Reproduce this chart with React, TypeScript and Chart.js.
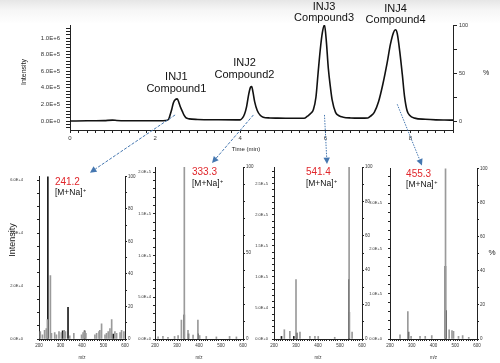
import React, { useEffect, useRef } from "react";
import { Chart, registerables } from "chart.js";

Chart.register(...registerables);

const FONT = "'Liberation Sans', Arial, Helvetica, sans-serif";

// ---------------- Chromatogram data (time in min, relative intensity %) ----------------
const chromTime = [
  0, 0.4, 0.8, 1.0, 1.1, 1.3, 1.7, 2.1, 2.25, 2.32, 2.35, 2.39, 2.43, 2.48, 2.52, 2.56, 2.6, 2.64, 2.68, 2.72,
  2.8, 3.0, 3.5, 3.9, 4.0, 4.05, 4.1, 4.15, 4.2, 4.24, 4.27, 4.3, 4.34, 4.4, 4.47, 4.54, 4.7, 4.87, 5.2, 5.5,
  5.58, 5.66, 5.72, 5.78, 5.83, 5.88, 5.93, 5.98, 6.02, 6.07, 6.12, 6.16, 6.24, 6.32, 6.42, 6.6, 6.82, 7.0,
  7.06, 7.15, 7.25, 7.35, 7.45, 7.53, 7.6, 7.65, 7.69, 7.75, 7.81, 7.86, 7.92, 7.98, 8.1, 8.35, 8.6, 8.8, 9.0,
];
const chromPct = [
  0, 0.2, 0.4, 0.9, 0.6, 0.3, 0.2, 0.3, 0.5, 2, 6, 12, 19, 22.5, 23, 19, 14, 10, 6, 3.5,
  2.2, 1.6, 1.3, 1.2, 1.2, 3, 7, 15, 28, 35, 36, 30, 20, 11, 6, 4, 3.2, 3, 2.8, 2.8,
  5, 8, 12, 25, 50, 74, 92, 100, 85, 55, 35, 22, 9, 5.5, 4, 3.2, 3, 3.2,
  5, 9, 20, 38, 60, 80, 92, 95, 91, 72, 48, 26, 11, 6, 3, 1.8, 1.2, 1.0, 0.9,
];
const peakNames = ["INJ1", "INJ2", "INJ3", "INJ4"];
const compoundNames = ["Compound1", "Compound2", "Compound3", "Compound4"];
const peakLabelTime = [2.5, 4.1, 5.97, 7.65];
const peakLabelPct = [45.8, 60.4, 119.3, 117.2];
const chromXTickValues = [0, 2, 4, 6, 8];
const chromXTickLabels = ["0", "2", "4", "6", "8"];
const chromYTickValues = [0, 200000, 400000, 600000, 800000, 1000000];
const chromYTickLabels = ["0.0E+0", "2.0E+5", "4.0E+5", "6.0E+5", "8.0E+5", "1.0E+6"];
const chromPctTickValues = [0, 50, 100];
const chromPctTickLabels = ["0", "50", "100"];
const chromFullScale = 1157000;

// ---------------- Mass spectra (m/z, relative intensity %) ----------------
const ionMasses = ["241.2", "333.3", "541.4", "455.3"];
const ionLabel = "[M+Na]";
const specXTickValues = [200, 300, 400, 500, 600];
const specXTickLabels = ["200", "300", "400", "500", "600"];

const spec1GrayMz = [206, 216, 226, 234, 239, 253, 258, 273, 281, 293, 304, 317, 323, 343, 362, 398, 405, 413, 418, 460, 468, 479, 483, 491, 507, 514, 522, 530, 538, 553, 561, 577, 584, 595];
const spec1GrayPct = [4.5, 2.5, 5.4, 6.4, 12, 39, 3.5, 4, 2.5, 4.5, 4, 5.4, 4.5, 2, 3.5, 2.5, 4, 4.5, 3.5, 2.5, 3.5, 4.5, 5.4, 9.3, 2.5, 3.5, 4.5, 6.4, 12, 4.5, 3.5, 4, 5.4, 4.5];
const spec1BlackMz = [241.2, 310, 335, 412, 545];
const spec1BlackPct = [100, 5, 19.5, 5, 3];
const spec1LeftTickValues = [0, 20000, 40000, 60000];
const spec1LeftTickLabels = ["0.0E+0", "2.0E+4", "4.0E+4", "6.0E+4"];
const spec1FullScale = 61400;
const spec1RightTicks = [0, 20, 40, 60, 80, 100];

const spec2GrayMz = [214, 236, 259, 289, 305, 320, 333.3, 350, 373, 395, 403, 433, 479, 539, 570];
const spec2GrayPct = [1.2, 1.5, 1, 1.5, 2, 11, 100, 5, 2.3, 11, 2, 1.5, 1.2, 1.5, 1.2];
const spec2BlackMz = [333, 352, 396];
const spec2BlackPct = [14, 3, 3];
const spec2LeftTickValues = [0, 50000, 100000, 150000, 200000];
const spec2LeftTickLabels = ["0.0E+0", "5.0E+4", "1.0E+5", "1.5E+5", "2.0E+5"];
const spec2FullScale = 206000;
const spec2RightTicks = [0, 50, 100];

const spec3GrayMz = [247, 272, 300, 318, 363, 386, 401, 476, 541.4, 555];
const spec3GrayPct = [5.4, 4.5, 34.5, 4, 1.5, 1.5, 1.5, 1, 100, 4];
const spec3BlackMz = [234, 290, 303, 540.6, 542.2];
const spec3BlackPct = [1.5, 1.5, 3.5, 34.5, 15.5];
const spec3LeftTickValues = [0, 50000, 100000, 150000, 200000, 250000];
const spec3LeftTickLabels = ["0.0E+0", "5.0E+4", "1.0E+5", "1.5E+5", "2.0E+5", "2.5E+5"];
const spec3FullScale = 277000;
const spec3RightTicks = [0, 20, 40, 60, 80, 100];

const spec4GrayMz = [246, 282, 297, 338, 362, 392, 455.3, 472, 485, 492, 515, 534, 562];
const spec4GrayPct = [2.5, 16, 1.5, 1.5, 1.5, 2, 100, 5.4, 5, 4.5, 1.5, 2, 1];
const spec4BlackMz = [285, 454.6, 456.6];
const spec4BlackPct = [4, 42.6, 16.7];
const spec4LeftTickValues = [0, 100000, 200000, 300000];
const spec4LeftTickLabels = ["0.0E+0", "1.0E+5", "2.0E+5", "3.0E+5"];
const spec4FullScale = 377000;
const spec4RightTicks = [0, 20, 40, 60, 80, 100];

// Ion label anchor (m/z position of label's left edge)
const ionLabelMz = [274, 368, 345, 274];

// Arrows: chromatogram (time, %) -> spectrum (m/z, %)
const arrowFromTime = [2.47, 4.31, 5.98, 7.69];
const arrowFromPct = [6.3, 6.3, 6.3, 17.4];
const arrowToMz = [437, 459, 441, 347];
const arrowToPct = [102.3, 102.3, 101.7, 101.7];

// ---------------- layout (styling only) ----------------
const TOP = { left: 0, top: 0, width: 500, height: 155, axisLeft: 70, axisRight: 47, padTop: 25, xAxisH: 25 };
const SPEC_TOP = 160;
const SPEC_H = 203;
const PANELS = [
  { left: 0, width: 140, axisLeft: 39, axisRight: 15, lpad: 14, minor: 5000 },
  { left: 125, width: 135, axisLeft: 30, axisRight: 17, lpad: 2, minor: 10000 },
  { left: 244, width: 135, axisLeft: 30, axisRight: 17, lpad: 4, minor: 10000 },
  { left: 360, width: 140, axisLeft: 30, axisRight: 23, lpad: 6, minor: 20000 },
];
const SPEC_DATA = [
  { gMz: spec1GrayMz, gPct: spec1GrayPct, bMz: spec1BlackMz, bPct: spec1BlackPct, lv: spec1LeftTickValues, ll: spec1LeftTickLabels, fs: spec1FullScale, rt: spec1RightTicks },
  { gMz: spec2GrayMz, gPct: spec2GrayPct, bMz: spec2BlackMz, bPct: spec2BlackPct, lv: spec2LeftTickValues, ll: spec2LeftTickLabels, fs: spec2FullScale, rt: spec2RightTicks },
  { gMz: spec3GrayMz, gPct: spec3GrayPct, bMz: spec3BlackMz, bPct: spec3BlackPct, lv: spec3LeftTickValues, ll: spec3LeftTickLabels, fs: spec3FullScale, rt: spec3RightTicks },
  { gMz: spec4GrayMz, gPct: spec4GrayPct, bMz: spec4BlackMz, bPct: spec4BlackPct, lv: spec4LeftTickValues, ll: spec4LeftTickLabels, fs: spec4FullScale, rt: spec4RightTicks },
];
const AXIS_COLOR = "#222";
const TICK_COLOR = "#333";
const ARROW_COLOR = "#4577b0";
const ARROW_DASH = [[3, 1.5], [3, 1.5], [1.5, 1.2], [1.5, 1.2]];

function labelFor(values: number[], labels: string[], v: number, tol: number) {
  const i = values.findIndex((tv) => Math.abs(tv - v) < tol);
  return i >= 0 ? labels[i] : "";
}

function makeTop(canvas: HTMLCanvasElement) {
  const labelsPlugin = {
    id: "peakLabels",
    afterDatasetsDraw(chart: any) {
      const ctx = chart.ctx;
      const xs = chart.scales.x;
      const ys = chart.scales.yR;
      ctx.save();
      ctx.fillStyle = "#111";
      ctx.textAlign = "center";
      ctx.textBaseline = "middle";
      ctx.font = `11px ${FONT}`;
      peakNames.forEach((n, i) => {
        const px = xs.getPixelForValue(peakLabelTime[i]);
        const py = ys.getPixelForValue(peakLabelPct[i]);
        ctx.fillText(n, px, py);
        ctx.fillText(compoundNames[i], px, py + 11.5);
      });
      ctx.restore();
    },
  };
  return new Chart(canvas, {
    type: "line",
    data: {
      datasets: [
        {
          data: chromTime.map((t, i) => ({ x: t, y: chromPct[i] })),
          yAxisID: "yR",
          borderColor: "#111",
          borderWidth: 1.6,
          pointRadius: 0,
          cubicInterpolationMode: "monotone",
          fill: false,
        },
      ],
    },
    options: {
      animation: false,
      responsive: false,
      events: [],
      layout: { padding: { top: TOP.padTop, left: 0, right: 0, bottom: 0 } },
      plugins: { legend: { display: false }, tooltip: { enabled: false } },
      scales: {
        x: {
          type: "linear",
          min: 0,
          max: 9,
          afterFit: (s: any) => { s.height = TOP.xAxisH; },
          afterBuildTicks: (s: any) => {
            const t = [];
            for (let i = 0; i <= 45; i++) t.push({ value: i / 5 });
            s.ticks = t;
          },
          ticks: {
            autoSkip: false,
            maxRotation: 0,
            padding: 2,
            color: TICK_COLOR,
            font: { family: FONT, size: 6 },
            callback: (v: any) => labelFor(chromXTickValues, chromXTickLabels, Number(v), 1e-6),
          },
          grid: { drawOnChartArea: false, drawTicks: true, tickLength: 3, color: AXIS_COLOR },
          border: { color: AXIS_COLOR, width: 1 },
        },
        y: {
          position: "left",
          min: -0.09375 * chromFullScale,
          max: chromFullScale,
          afterFit: (s: any) => { s.width = TOP.axisLeft; },
          afterBuildTicks: (s: any) => {
            const t = [];
            for (let i = -2; i <= 28; i++) t.push({ value: i * 40000 });
            s.ticks = t;
          },
          ticks: {
            autoSkip: false,
            padding: 6,
            color: TICK_COLOR,
            font: { family: FONT, size: 6 },
            callback: (v: any) => labelFor(chromYTickValues, chromYTickLabels, Number(v), 1),
          },
          grid: { drawOnChartArea: false, drawTicks: true, tickLength: 4, color: AXIS_COLOR },
          border: { color: AXIS_COLOR, width: 1 },
        },
        yR: {
          position: "right",
          min: -9.375,
          max: 100,
          afterFit: (s: any) => { s.width = TOP.axisRight; },
          afterBuildTicks: (s: any) => {
            s.ticks = [0, 25, 50, 75, 100].map((v) => ({ value: v }));
          },
          ticks: {
            autoSkip: false,
            padding: 2,
            color: TICK_COLOR,
            font: { family: FONT, size: 5.5 },
            callback: (v: any) => labelFor(chromPctTickValues, chromPctTickLabels, Number(v), 1e-6),
          },
          grid: { drawOnChartArea: false, drawTicks: true, tickLength: 4, color: AXIS_COLOR },
          border: { color: AXIS_COLOR, width: 1 },
        },
      },
    },
    plugins: [labelsPlugin],
  } as any);
}

function makeSpectrum(canvas: HTMLCanvasElement, idx: number) {
  const d = SPEC_DATA[idx];
  const p = PANELS[idx];
  const labelPlugin = {
    id: "ionLabels",
    afterDraw(chart: any) {
      const ctx = chart.ctx;
      const xs = chart.scales.x;
      const area = chart.chartArea;
      ctx.save();
      ctx.textBaseline = "middle";
      ctx.textAlign = "left";
      const x = xs.getPixelForValue(ionLabelMz[idx]);
      ctx.fillStyle = "#e0262b";
      ctx.font = `10px ${FONT}`;
      ctx.fillText(ionMasses[idx], x, area.top + 5.5);
      ctx.fillStyle = "#111";
      ctx.font = `8.5px ${FONT}`;
      ctx.fillText(ionLabel, x, area.top + 16.5);
      const w = ctx.measureText(ionLabel).width;
      ctx.font = `5.5px ${FONT}`;
      ctx.fillText("+", x + w + 0.5, area.top + 14);
      ctx.fillStyle = TICK_COLOR;
      ctx.textAlign = "center";
      ctx.font = `4.5px ${FONT}`;
      ctx.fillText("m/z", (area.left + area.right) / 2, area.bottom + 18.5);
      ctx.restore();
    },
  };
  return new Chart(canvas, {
    type: "bar",
    data: {
      datasets: [
        {
          data: d.gMz.map((m, i) => ({ x: m, y: d.gPct[i] })),
          backgroundColor: "#9a9a9a",
          borderWidth: 0,
          barThickness: 1,
          grouped: false,
          yAxisID: "yR",
        },
        {
          data: d.bMz.map((m, i) => ({ x: m, y: d.bPct[i] })),
          backgroundColor: "#1a1a1a",
          borderWidth: 0,
          barThickness: 1,
          grouped: false,
          yAxisID: "yR",
        },
      ],
    },
    options: {
      animation: false,
      responsive: false,
      events: [],
      layout: { padding: { top: 7, left: 0, right: 0, bottom: 0 } },
      plugins: { legend: { display: false }, tooltip: { enabled: false } },
      scales: {
        x: {
          type: "linear",
          min: 200,
          max: 600,
          offset: false,
          afterFit: (s: any) => { s.height = SPEC_H - 179; },
          afterBuildTicks: (s: any) => {
            const t = [];
            for (let i = 20; i <= 60; i++) t.push({ value: i * 10 });
            s.ticks = t;
          },
          ticks: {
            autoSkip: false,
            maxRotation: 0,
            padding: 2,
            color: TICK_COLOR,
            font: { family: FONT, size: 4.5 },
            callback: (v: any) => labelFor(specXTickValues, specXTickLabels, Number(v), 1e-6),
          },
          grid: { offset: false, drawOnChartArea: false, drawTicks: true, tickLength: 2, color: AXIS_COLOR },
          border: { color: AXIS_COLOR, width: 1 },
        },
        y: {
          position: "left",
          min: 0,
          max: d.fs,
          afterFit: (s: any) => { s.width = p.axisLeft; },
          afterBuildTicks: (s: any) => {
            const t = [];
            for (let v = 0; v <= d.fs; v += p.minor) t.push({ value: v });
            s.ticks = t;
          },
          ticks: {
            autoSkip: false,
            padding: p.lpad,
            color: TICK_COLOR,
            font: { family: FONT, size: 4 },
            callback: (v: any) => labelFor(d.lv, d.ll, Number(v), 1),
          },
          grid: { drawOnChartArea: false, drawTicks: true, tickLength: 2, color: AXIS_COLOR },
          border: { color: AXIS_COLOR, width: 1 },
        },
        yR: {
          position: "right",
          min: 0,
          max: 100,
          afterFit: (s: any) => { s.width = p.axisRight; },
          afterBuildTicks: (s: any) => {
            const t = [];
            for (let v = 0; v <= 100; v += 10) t.push({ value: v });
            s.ticks = t;
          },
          ticks: {
            autoSkip: false,
            padding: 1,
            color: TICK_COLOR,
            font: { family: FONT, size: 4.5 },
            callback: (v: any) => (d.rt.indexOf(Number(v)) >= 0 ? String(v) : ""),
          },
          grid: { drawOnChartArea: false, drawTicks: true, tickLength: 2, color: AXIS_COLOR },
          border: { color: AXIS_COLOR, width: 1 },
        },
      },
    },
    plugins: [labelPlugin],
  } as any);
}

function drawArrow(ctx: CanvasRenderingContext2D, x1: number, y1: number, x2: number, y2: number, dash: number[]) {
  const ang = Math.atan2(y2 - y1, x2 - x1);
  const head = 6.5;
  const half = 3.2;
  const bx = x2 - head * Math.cos(ang);
  const by = y2 - head * Math.sin(ang);
  ctx.save();
  ctx.strokeStyle = ARROW_COLOR;
  ctx.fillStyle = ARROW_COLOR;
  ctx.lineWidth = 1;
  ctx.setLineDash(dash);
  ctx.beginPath();
  ctx.moveTo(x1, y1);
  ctx.lineTo(bx, by);
  ctx.stroke();
  ctx.setLineDash([]);
  ctx.beginPath();
  ctx.moveTo(x2, y2);
  ctx.lineTo(bx + half * Math.sin(ang), by - half * Math.cos(ang));
  ctx.lineTo(bx - half * Math.sin(ang), by + half * Math.cos(ang));
  ctx.closePath();
  ctx.fill();
  ctx.restore();
}

function drawOverlay(canvas: HTMLCanvasElement, top: any, specs: any[]) {
  const ctx = canvas.getContext("2d");
  if (!ctx) return;
  ctx.clearRect(0, 0, canvas.width, canvas.height);
  arrowFromTime.forEach((t, i) => {
    const x1 = TOP.left + top.scales.x.getPixelForValue(t);
    const y1 = TOP.top + top.scales.yR.getPixelForValue(arrowFromPct[i]);
    const sp = specs[i];
    const x2 = PANELS[i].left + sp.scales.x.getPixelForValue(arrowToMz[i]);
    const y2 = SPEC_TOP + sp.scales.yR.getPixelForValue(arrowToPct[i]);
    drawArrow(ctx, x1, y1, x2, y2, ARROW_DASH[i]);
  });
  ctx.save();
  ctx.fillStyle = "#222";
  ctx.textAlign = "center";
  ctx.textBaseline = "middle";
  ctx.font = `6px ${FONT}`;
  ctx.fillText("Time (min)", 246, 149);
  ctx.font = `7px ${FONT}`;
  ctx.fillText("%", 486, 73);
  ctx.font = `8px ${FONT}`;
  ctx.fillText("%", 492, 253);
  ctx.save();
  ctx.translate(24, 72);
  ctx.rotate(-Math.PI / 2);
  ctx.font = `7px ${FONT}`;
  ctx.fillText("Intensity", 0, 0);
  ctx.restore();
  ctx.save();
  ctx.translate(13, 240);
  ctx.rotate(-Math.PI / 2);
  ctx.font = `9px ${FONT}`;
  ctx.fillText("Intensity", 0, 0);
  ctx.restore();
  ctx.restore();
}

export default function App() {
  const topRef = useRef<HTMLCanvasElement>(null);
  const s1 = useRef<HTMLCanvasElement>(null);
  const s2 = useRef<HTMLCanvasElement>(null);
  const s3 = useRef<HTMLCanvasElement>(null);
  const s4 = useRef<HTMLCanvasElement>(null);
  const overlayRef = useRef<HTMLCanvasElement>(null);
  const specRefs = [s1, s2, s3, s4];

  useEffect(() => {
    const top = makeTop(topRef.current as HTMLCanvasElement);
    const specs = specRefs.map((r, i) => makeSpectrum(r.current as HTMLCanvasElement, i));
    drawOverlay(overlayRef.current as HTMLCanvasElement, top, specs);
    return () => {
      top.destroy();
      specs.forEach((c) => c.destroy());
    };
  }, []);

  return (
    <div
      style={{
        position: "fixed",
        left: 0,
        top: 0,
        width: 500,
        height: 363,
        overflow: "hidden",
        background: "linear-gradient(#e6e6e6 0px, #f6f6f6 10px, #ffffff 24px)",
      }}
    >
      <canvas
        ref={topRef}
        width={TOP.width}
        height={TOP.height}
        style={{ position: "absolute", left: TOP.left, top: TOP.top, width: TOP.width, height: TOP.height }}
      />
      {PANELS.map((p, i) => (
        <canvas
          key={i}
          ref={specRefs[i]}
          width={p.width}
          height={SPEC_H}
          style={{ position: "absolute", left: p.left, top: SPEC_TOP, width: p.width, height: SPEC_H }}
        />
      ))}
      <canvas
        ref={overlayRef}
        width={500}
        height={363}
        style={{ position: "absolute", left: 0, top: 0, width: 500, height: 363, pointerEvents: "none" }}
      />
    </div>
  );
}
